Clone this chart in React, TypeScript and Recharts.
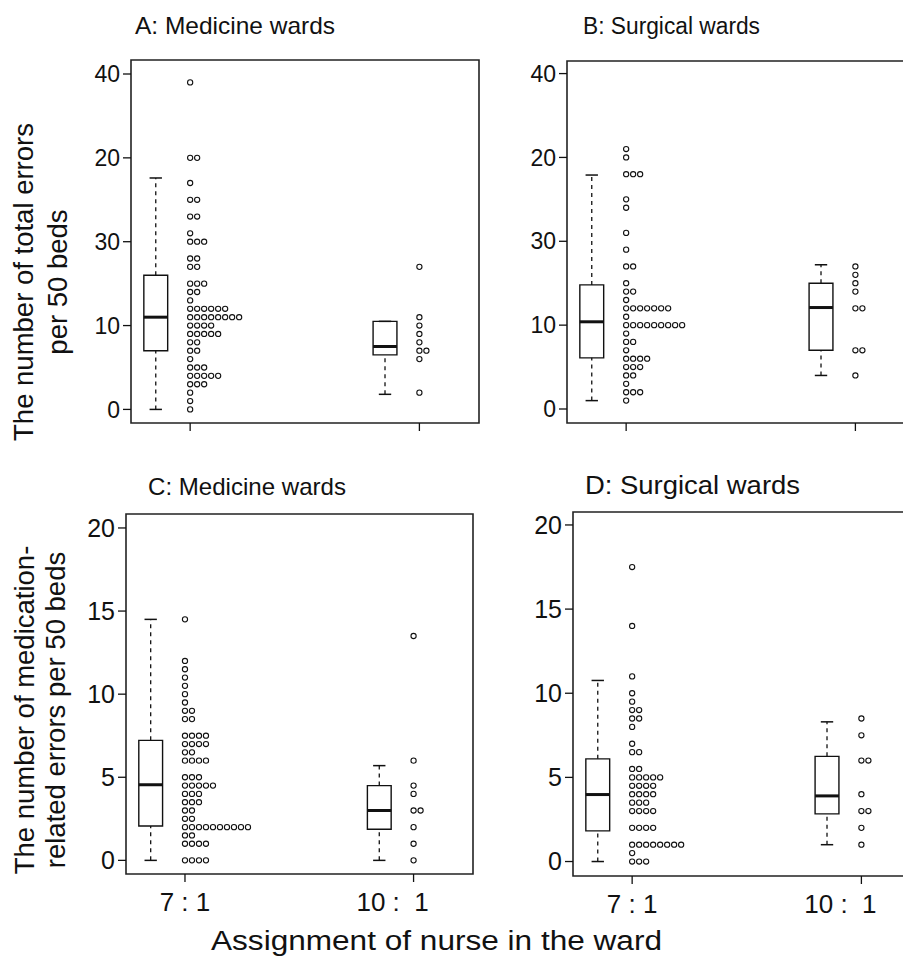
import React from 'react';
import {
  ComposedChart,
  Scatter,
  XAxis,
  YAxis,
  ReferenceArea,
  ReferenceLine,
} from 'recharts';

const FONT = '"Liberation Sans", Arial, Helvetica, sans-serif';
const INK = '#111';

// group positions on the x axis: 1 = "7 : 1", 2 = "10 : 1"
const groupPositions = [1, 2];
const groupLabels = ['7 : 1', '10 :  1'];

// top panels: tick labels printed in this (odd) order, bottom to top
const totalTicks = [0, 10, 20, 30, 40];
const totalTickLabels = ['0', '10', '30', '20', '40'];
const medTicks = [0, 5, 10, 15, 20];
const medTickLabels = ['0', '5', '10', '15', '20'];

// A: medicine wards, total errors (position on the printed axis)
const medicineTotal71 = [
  0, 1, 2, 3, 3, 3, 4, 4, 4, 4, 4, 5, 5, 5, 6, 7, 7, 8, 8, 9, 9, 9, 9, 9,
  10, 10, 10, 10, 11, 11, 11, 11, 11, 11, 11, 11, 12, 12, 12, 12, 12, 12,
  13, 14, 14, 15, 15, 15, 17, 17, 18, 18, 20, 20, 20, 21, 23, 23, 25, 25,
  27, 30, 30, 39,
];
const medicineTotal101 = [2, 6, 7, 7, 8, 9, 10, 11, 17];
const medicineTotalBox71 = [0, 7, 11, 16, 27.6];
const medicineTotalBox101 = [1.8, 6.5, 7.5, 10.5, 10.5];

// B: surgical wards, total errors
const surgicalTotal71 = [
  1, 2, 2, 2, 3, 4, 4, 5, 5, 5, 6, 6, 6, 6, 7, 8, 8, 9,
  10, 10, 10, 10, 10, 10, 10, 10, 10, 11, 12, 12, 12, 12, 12, 12, 12,
  13, 14, 14, 15, 17, 17, 19, 21, 24, 25, 28, 28, 28, 30, 31,
];
const surgicalTotal101 = [4, 7, 7, 12, 12, 14, 15, 16, 17];
const surgicalTotalBox71 = [1, 6.1, 10.4, 14.8, 27.9];
const surgicalTotalBox101 = [4, 7, 12.1, 15, 17.2];

// C: medicine wards, medication-related errors
const medicineMed71 = [
  0, 0, 0, 0, 1, 1, 1, 1, 1.5, 1.5, 2, 2, 2, 2, 2, 2, 2, 2, 2, 2, 2.5, 2.5,
  3, 3, 3.5, 3.5, 3.5, 4, 4, 4, 4.5, 4.5, 4.5, 4.5, 4.5, 5, 5, 5,
  6, 6, 6, 6, 6.5, 6.5, 7, 7, 7, 7, 7.5, 7.5, 7.5, 7.5, 8.5, 8.5, 9, 9,
  9.5, 10, 10.5, 11, 11.5, 12, 14.5,
];
const medicineMed101 = [0, 1, 2, 3, 3, 4, 4.5, 6, 13.5];
const medicineMedBox71 = [0, 2.07, 4.55, 7.22, 14.5];
const medicineMedBox101 = [0, 1.87, 3, 4.5, 5.7];

// D: surgical wards, medication-related errors
const surgicalMed71 = [
  0, 0, 0, 0.5, 1, 1, 1, 1, 1, 1, 1, 1, 2, 2, 2, 2, 3, 3, 3, 3,
  3.5, 3.5, 3.5, 4, 4, 4, 4, 4.5, 4.5, 4.5, 4.5, 5, 5, 5, 5, 5, 5.5, 5.5,
  6.5, 6.5, 7, 8, 8.5, 8.5, 9, 9, 9.5, 10, 11, 14, 17.5,
];
const surgicalMed101 = [1, 2, 3, 3, 4, 6, 6, 7.5, 8.5];
const surgicalMedBox71 = [0, 1.82, 3.98, 6.1, 10.76];
const surgicalMedBox101 = [1, 2.83, 3.9, 6.25, 8.3];

const X_DOMAIN: [number, number] = [0.742, 2.26];
const BOX_SHIFT = -0.15;
const BOX_HALF = 0.052;
const CAP_HALF = 0.027;
const DOT_STEP = 7;
const Y_AXIS_W = 62;

type Frame = { left: number; top: number; right: number; bottom: number };

const stack = (values: number[], g: number) => {
  const seen = new Map<number, number>();
  return values.map((v) => {
    const k = seen.get(v) ?? 0;
    seen.set(v, k + 1);
    return { x: g, y: v, k };
  });
};

const Dot = (p: any) => (
  <circle
    cx={p.cx + p.payload.k * DOT_STEP}
    cy={p.cy}
    r={2.6}
    fill="#fff"
    stroke={INK}
    strokeWidth={1.1}
  />
);

const renderBox = (box: number[], g: number, key: string) => {
  const [min, q1, med, q3, max] = box;
  const c = g + BOX_SHIFT;
  return [
    <ReferenceLine key={key + 'wu'} segment={[{ x: c, y: q3 }, { x: c, y: max }]} stroke={INK} strokeWidth={1.3} strokeDasharray="4 4" ifOverflow="visible" />,
    <ReferenceLine key={key + 'wl'} segment={[{ x: c, y: min }, { x: c, y: q1 }]} stroke={INK} strokeWidth={1.3} strokeDasharray="4 4" ifOverflow="visible" />,
    <ReferenceLine key={key + 'cu'} segment={[{ x: c - CAP_HALF, y: max }, { x: c + CAP_HALF, y: max }]} stroke={INK} strokeWidth={1.5} ifOverflow="visible" />,
    <ReferenceLine key={key + 'cl'} segment={[{ x: c - CAP_HALF, y: min }, { x: c + CAP_HALF, y: min }]} stroke={INK} strokeWidth={1.5} ifOverflow="visible" />,
    <ReferenceArea key={key + 'b'} x1={c - BOX_HALF} x2={c + BOX_HALF} y1={q1} y2={q3} fill="#fff" fillOpacity={1} stroke={INK} strokeWidth={1.4} ifOverflow="visible" />,
    <ReferenceLine key={key + 'm'} segment={[{ x: c - BOX_HALF, y: med }, { x: c + BOX_HALF, y: med }]} stroke={INK} strokeWidth={3} ifOverflow="visible" />,
  ];
};

interface PanelProps {
  frame: Frame;
  yDomain: [number, number];
  yTicks: number[];
  yTickLabels: string[];
  yFont: number;
  showXLabels: boolean;
  series: { values: number[]; box: number[] }[];
}

const XTick = (props: any) => {
  const { x, y, payload, show } = props;
  const i = groupPositions.indexOf(payload.value);
  if (!show) return null;
  return (
    <text
      x={x + (i === 1 ? -21 : 0)}
      y={y}
      dy="0.71em"
      textAnchor="middle"
      fontSize={26}
      fontFamily={FONT}
      fill={INK}
      style={{ whiteSpace: 'pre' }}
    >
      {groupLabels[i]}
    </text>
  );
};

const Panel: React.FC<PanelProps> = ({ frame, yDomain, yTicks, yTickLabels, yFont, showXLabels, series }) => {
  const plotW = frame.right - frame.left;
  const plotH = frame.bottom - frame.top;
  const width = Y_AXIS_W + plotW + 10;
  const height = 10 + plotH + 50;
  return (
    <div style={{ position: 'absolute', left: frame.left - Y_AXIS_W, top: frame.top - 10 }}>
      <ComposedChart width={width} height={height} margin={{ top: 10, right: 10, bottom: 0, left: 0 }}>
        <XAxis
          type="number"
          dataKey="x"
          domain={X_DOMAIN}
          ticks={groupPositions}
          allowDataOverflow
          axisLine={false}
          tickLine={{ stroke: INK, strokeWidth: 1.3 }}
          tickSize={8}
          tickMargin={11}
          height={50}
          interval={0}
          tick={<XTick show={showXLabels} />}
        />
        <YAxis
          type="number"
          dataKey="y"
          domain={yDomain}
          ticks={yTicks}
          allowDataOverflow
          axisLine={false}
          tickLine={{ stroke: INK, strokeWidth: 1.3 }}
          tickSize={8}
          tickMargin={3}
          width={Y_AXIS_W}
          interval={0}
          tickFormatter={(v: number) => yTickLabels[yTicks.indexOf(v)] ?? ''}
          tick={{ fontSize: yFont, fill: INK, fontFamily: FONT }}
        />
        <ReferenceArea
          x1={X_DOMAIN[0]}
          x2={X_DOMAIN[1]}
          y1={yDomain[0]}
          y2={yDomain[1]}
          fill="none"
          stroke="#222"
          strokeWidth={1.6}
          ifOverflow="visible"
        />
        {series.flatMap((s, i) => renderBox(s.box, groupPositions[i], `box${i}`))}
        {series.map((s, i) => (
          <Scatter
            key={`dots${i}`}
            data={stack(s.values, groupPositions[i])}
            dataKey="y"
            shape={Dot}
            isAnimationActive={false}
          />
        ))}
      </ComposedChart>
    </div>
  );
};

const txt = { fontFamily: FONT, fill: INK } as const;

export default function App() {
  return (
    <div
      style={{
        position: 'absolute',
        left: 0,
        top: 0,
        width: 903,
        height: 962,
        overflow: 'hidden',
        background: '#fff',
        fontFamily: FONT,
      }}
    >
      <Panel
        frame={{ left: 131, top: 60, right: 479, bottom: 423 }}
        yDomain={[-1.62, 41.67]}
        yTicks={totalTicks}
        yTickLabels={totalTickLabels}
        yFont={23}
        showXLabels={false}
        series={[
          { values: medicineTotal71, box: medicineTotalBox71 },
          { values: medicineTotal101, box: medicineTotalBox101 },
        ]}
      />
      <Panel
        frame={{ left: 567, top: 61, right: 915, bottom: 423 }}
        yDomain={[-1.67, 41.5]}
        yTicks={totalTicks}
        yTickLabels={totalTickLabels}
        yFont={23}
        showXLabels={false}
        series={[
          { values: surgicalTotal71, box: surgicalTotalBox71 },
          { values: surgicalTotal101, box: surgicalTotalBox101 },
        ]}
      />
      <Panel
        frame={{ left: 126, top: 514, right: 473, bottom: 874 }}
        yDomain={[-0.82, 20.84]}
        yTicks={medTicks}
        yTickLabels={medTickLabels}
        yFont={25}
        showXLabels
        series={[
          { values: medicineMed71, box: medicineMedBox71 },
          { values: medicineMed101, box: medicineMedBox101 },
        ]}
      />
      <Panel
        frame={{ left: 573, top: 512, right: 921, bottom: 876 }}
        yDomain={[-0.86, 20.77]}
        yTicks={medTicks}
        yTickLabels={medTickLabels}
        yFont={25}
        showXLabels
        series={[
          { values: surgicalMed71, box: surgicalMedBox71 },
          { values: surgicalMed101, box: surgicalMedBox101 },
        ]}
      />
      <svg
        width={903}
        height={962}
        style={{ position: 'absolute', left: 0, top: 0, pointerEvents: 'none' }}
      >
        <text x={135} y={34} fontSize={24} textLength={200} lengthAdjust="spacingAndGlyphs" {...txt}>A: Medicine wards</text>
        <text x={583} y={34} fontSize={23} textLength={177} lengthAdjust="spacingAndGlyphs" {...txt}>B: Surgical wards</text>
        <text x={148} y={495} fontSize={24} textLength={198} lengthAdjust="spacingAndGlyphs" {...txt}>C: Medicine wards</text>
        <text x={585} y={494} fontSize={25} textLength={215} lengthAdjust="spacingAndGlyphs" {...txt}>D: Surgical wards</text>

        <text transform="translate(33,282) rotate(-90)" textAnchor="middle" fontSize={27.5} {...txt}>The number of total errors</text>
        <text transform="translate(67,282) rotate(-90)" textAnchor="middle" fontSize={27.5} {...txt}>per 50 beds</text>
        <text transform="translate(34,710) rotate(-90)" textAnchor="middle" fontSize={27.5} {...txt}>The number of medication-</text>
        <text transform="translate(65,710) rotate(-90)" textAnchor="middle" fontSize={27.5} {...txt}>related errors per 50 beds</text>

        <text x={211} y={950} fontSize={27} textLength={451} lengthAdjust="spacingAndGlyphs" {...txt}>Assignment of nurse in the ward</text>
      </svg>
    </div>
  );
}
